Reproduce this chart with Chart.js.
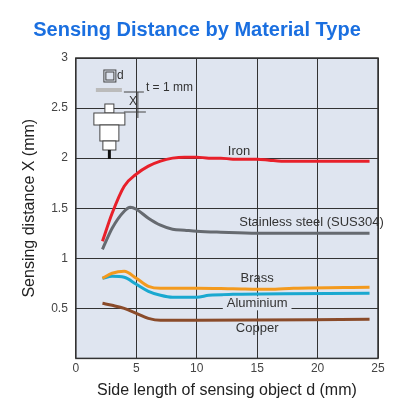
<!DOCTYPE html>
<html>
<head>
<meta charset="utf-8">
<script src="https://cdn.jsdelivr.net/npm/chart.js@4"></script>
<style>
  html, body { margin: 0; padding: 0; background: #fff; }
  #wrap { width: 416px; height: 416px; }
</style>
</head>
<body>
<div id="wrap"><canvas id="c" width="416" height="416"></canvas></div>
<script>
// values (x = side length d in mm, y = sensing distance X in mm)
const ironData = [[2.2,1.17],[3,1.45],[4,1.72],[5,1.84],[6,1.92],[7,1.97],[8,2.0],[9,2.01],[10,2.01],[11,2.0],[12,2.0],[13,1.99],[15,1.99],[16,1.98],[17,1.97],[20,1.97],[24.3,1.97]];
const stainlessData = [[2.2,1.09],[3,1.3],[4,1.47],[4.5,1.51],[5,1.49],[6,1.4],[7,1.33],[8,1.29],[9,1.28],[10,1.27],[12,1.26],[15,1.25],[24.3,1.25]];
const brassData = [[2.2,0.8],[3,0.85],[4,0.87],[5,0.8],[6,0.72],[7,0.7],[10,0.7],[13,0.695],[16,0.69],[18,0.7],[24.3,0.71]];
const aluminiumData = [[2.2,0.8],[3,0.82],[4,0.81],[5,0.74],[6,0.67],[7,0.63],[8,0.61],[10,0.61],[11,0.63],[13,0.64],[24.3,0.65]];
const copperData = [[2.2,0.55],[3,0.53],[4,0.5],[5,0.45],[6,0.4],[7,0.38],[10,0.38],[24.3,0.39]];

const seriesNames = ['Iron', 'Stainless steel (SUS304)', 'Brass', 'Aluminium', 'Copper'];
const seriesColors = ['#e8202a', '#666a70', '#f39a1e', '#1aa8d0', '#8a4b2a'];
const labelPos = [[13.5,2.07],[19.5,1.36],[15,0.8],[15,0.55],[15,0.3]];

const toPts = arr => arr.map(p => ({ x: p[0], y: p[1] }));

// draws the plot background, curve labels and the little sensor sketch
const decor = {
  id: 'decor',
  beforeDraw(chart) {
    const { ctx, chartArea: a } = chart;
    ctx.save();
    ctx.fillStyle = '#dfe5f0';
    ctx.fillRect(a.left, a.top, a.right - a.left, a.bottom - a.top);
    ctx.restore();
  },
  afterDraw(chart) {
    const { ctx, scales: { x, y }, chartArea: a } = chart;
    ctx.save();
    ctx.strokeStyle = '#333';
    ctx.lineWidth = 1.5;
    ctx.strokeRect(a.left, a.top, a.right - a.left, a.bottom - a.top);
    ctx.font = '13px "Liberation Sans", Arial, sans-serif';
    ctx.fillStyle = '#333';
    ctx.textAlign = 'center';
    ctx.textBaseline = 'middle';
    labelPos.forEach((p, i) => {
      const tx = x.getPixelForValue(p[0]), ty = y.getPixelForValue(p[1]);
      const w = ctx.measureText(seriesNames[i]).width;
      if (i === 3) { ctx.fillStyle = '#dfe5f0'; ctx.fillRect(tx - w / 2 - 4, ty - 7, w + 8, 14); ctx.fillStyle = '#333'; }
      ctx.fillText(seriesNames[i], tx, ty);
    });
    // sensor sketch
    const ox = a.left + 18, oy = a.top + 8;
    ctx.lineWidth = 1;
    ctx.strokeStyle = '#444';
    ctx.fillStyle = '#fff';
    ctx.strokeRect(ox + 10, oy + 4, 12, 12);
    ctx.strokeRect(ox + 12, oy + 6, 8, 8);
    ctx.fillStyle = '#bbb';
    ctx.fillRect(ox + 2, oy + 22, 26, 4);
    ctx.fillStyle = '#333';
    ctx.font = '12px "Liberation Sans", Arial, sans-serif';
    ctx.textAlign = 'left';
    ctx.fillText('d', ox + 23, oy + 10);
    ctx.fillText('t = 1 mm', ox + 52, oy + 22);
    ctx.fillText('X', ox + 35, oy + 36);
    ctx.beginPath();
    ctx.moveTo(ox + 30, oy + 26); ctx.lineTo(ox + 50, oy + 26);
    ctx.moveTo(ox + 30, oy + 46); ctx.lineTo(ox + 52, oy + 46);
    ctx.moveTo(ox + 44, oy + 26); ctx.lineTo(ox + 44, oy + 52);
    ctx.stroke();
    ctx.fillStyle = '#fff';
    ctx.fillRect(ox + 11, oy + 38, 9, 9); ctx.strokeRect(ox + 11, oy + 38, 9, 9);
    ctx.fillRect(ox, oy + 47, 31, 12); ctx.strokeRect(ox, oy + 47, 31, 12);
    ctx.fillRect(ox + 6, oy + 59, 19, 16); ctx.strokeRect(ox + 6, oy + 59, 19, 16);
    ctx.fillRect(ox + 9, oy + 75, 13, 9); ctx.strokeRect(ox + 9, oy + 75, 13, 9);
    ctx.fillStyle = '#111';
    ctx.fillRect(ox + 14, oy + 84, 3, 9);
    ctx.restore();
  }
};

new Chart(document.getElementById('c'), {
  type: 'line',
  data: {
    datasets: [ironData, stainlessData, brassData, aluminiumData, copperData].map((d, i) => ({
      label: seriesNames[i],
      data: toPts(d),
      borderColor: seriesColors[i],
      borderWidth: 3,
      pointRadius: 0,
      cubicInterpolationMode: 'monotone',
      fill: false
    }))
  },
  options: {
    responsive: false,
    animation: false,
    layout: { padding: { left: 16, right: 38, top: 6, bottom: 12 } },
    scales: {
      x: {
        type: 'linear', min: 0, max: 25,
        ticks: { stepSize: 5, color: '#444', font: { size: 12, family: '"Liberation Sans", Arial' } },
        grid: { color: '#333', lineWidth: 1, drawTicks: false },
        border: { display: false },
        title: { display: true, text: 'Side length of sensing object d (mm)', color: '#222', font: { size: 16, family: '"Liberation Sans", Arial' }, padding: { top: 2 } }
      },
      y: {
        min: 0, max: 3,
        ticks: { stepSize: 0.5, color: '#444', padding: 8, font: { size: 12, family: '"Liberation Sans", Arial' },
                 callback: v => v === 0 ? '' : v },
        grid: { color: '#333', lineWidth: 1, drawTicks: false },
        border: { display: false },
        title: { display: true, text: 'Sensing distance X (mm)', color: '#222', font: { size: 16, family: '"Liberation Sans", Arial' } }
      }
    },
    plugins: {
      legend: { display: false },
      tooltip: { enabled: false },
      title: {
        display: true, text: 'Sensing Distance by Material Type', color: '#1a6fe0',
        font: { size: 20, weight: 'bold', family: '"Liberation Sans", Arial' }, padding: { top: 12, bottom: 16 }
      }
    }
  },
  plugins: [decor]
});
</script>
</body>
</html>
